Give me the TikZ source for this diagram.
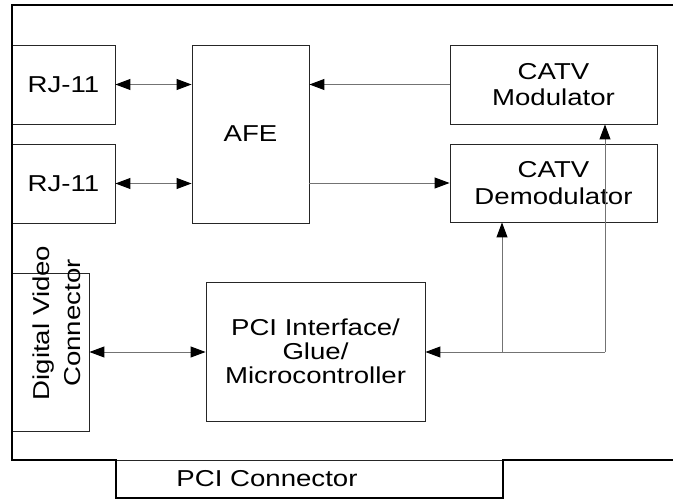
\documentclass[tikz,border=0pt]{standalone}
\usepackage{fontspec}
\setmainfont[FakeStretch=1.2]{Liberation Sans}
\newfontfamily\plainsans{Liberation Sans}
\usetikzlibrary{arrows.meta}

\begin{document}
\begin{tikzpicture}
  [x=1pt, y=-1pt,
   block/.style={rectangle, draw=black!85, line width=0.9pt, inner sep=0pt, align=center,
                 font=\fontsize{23}{26.5}\selectfont},
   label/.style={inner sep=0pt, align=center, font=\fontsize{23}{26.5}\selectfont},
   link/.style={draw=black!55, line width=1pt},
   tip/.style={-{Triangle[color=black, length=15pt, width=11pt]}},
   twotip/.style={{Triangle[color=black, length=15pt, width=11pt]}-{Triangle[color=black, length=15pt, width=11pt]}},
   board/.style={draw=black, line width=2.2pt}]

  \useasboundingbox (0,0) rectangle (673,501);

  \node[block, minimum width=103pt, minimum height=79pt] (rj1) at (63.5,84.5) {RJ-11};
  \node[block, minimum width=103pt, minimum height=79pt] (rj2) at (63.5,183.5) {RJ-11};
  \node[block, minimum width=117pt, minimum height=178pt] (afe) at (250.5,134) {AFE};
  \node[block, minimum width=207pt, minimum height=79pt] (mod) at (553.5,84.5) {CATV\\Modulator};
  \node[block, minimum width=207pt, minimum height=78pt] (demod) at (553.5,183) {CATV\\Demodulator};
  \node[block, minimum width=77pt, minimum height=158pt] (dvc) at (50.5,352) {};
  \node[label, rotate=90, yscale=0.833, font=\plainsans\fontsize{27.6}{37.8}\selectfont]
    (dvctext) at (57,323) {Digital Video\\Connector};
  \node[block, minimum width=219pt, minimum height=139pt, font=\fontsize{23}{24.2}\selectfont]
    (pci) at (315.5,351.5) {PCI Interface/\\Glue/\\Microcontroller};
  \node[block, minimum width=387pt, minimum height=38pt] (pcicon) at (309.5,479) {};
  \node[label] (pcitext) at (267,479) {PCI Connector};

  % board outline
  \draw[board] (673,5) -- (12,5) -- (12,460) -- (116,460) -- (116,498)
    -- (503,498) -- (503,460) -- (673,460);

  \foreach \from/\to in {rj1/afe, rj2/afe}
    \draw[link, twotip] (\from.east) -- (\from.east -| \to.west);
  \draw[link, tip] (mod.west) -- (mod.west -| afe.east);
  \draw[link, tip] (demod.west -| afe.east) -- (demod.west);
  \draw[link, twotip] (dvc.east) -- (dvc.east -| pci.west);

  \coordinate (bus1) at (502,352);
  \coordinate (bus2) at (605,352);
  \draw[link, tip] (bus2) -- (bus2 -| pci.east);
  \draw[link, tip] (bus1) -- (bus1 |- demod.south);
  \draw[link, tip] (bus2) -- (bus2 |- mod.south);
\end{tikzpicture}
\end{document}
